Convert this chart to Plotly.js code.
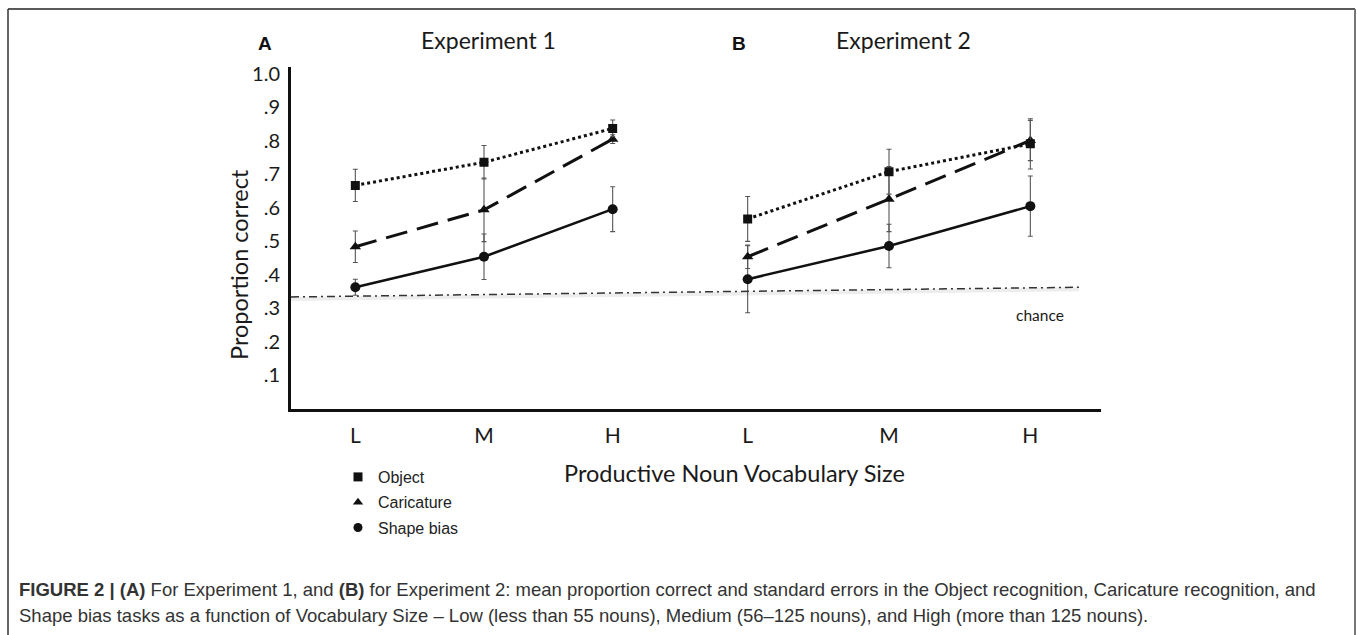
<!DOCTYPE html>
<html>
<head>
<meta charset="utf-8">
<script src="https://cdn.plot.ly/plotly-3.0.1.min.js"></script>
<style>
  html, body { margin: 0; padding: 0; background: #ffffff; }
  #chart { width: 1357px; height: 635px; }
</style>
</head>
<body>
<div id="chart"></div>
<script>
// ---------------- data ----------------
const categories = ['L', 'M', 'H'];
const yTickVals = [0.1, 0.2, 0.3, 0.4, 0.5, 0.6, 0.7, 0.8, 0.9, 1.0];
const yTickText = ['.1', '.2', '.3', '.4', '.5', '.6', '.7', '.8', '.9', '1.0'];

const exp1Object        = [0.666, 0.735, 0.836];
const exp1ObjectErr     = [0.048, 0.050, 0.025];
const exp1Caricature    = [0.483, 0.593, 0.804];
const exp1CaricatureErr = [0.047, 0.095, 0.013];
const exp1Shape         = [0.362, 0.453, 0.595];
const exp1ShapeErr      = [0.024, 0.068, 0.067];

const exp2Object        = [0.566, 0.707, 0.790];
const exp2ObjectErr     = [0.067, 0.067, 0.075];
const exp2Caricature    = [0.453, 0.625, 0.800];
const exp2CaricatureErr = [0.035, 0.097, 0.060];
const exp2Shape         = [0.386, 0.485, 0.604];
const exp2ShapeErr      = [0.100, 0.065, 0.090];

const chanceLine = [0.333, 0.362];   // chance reference line (start, end)
const seriesNames = ['Object', 'Caricature', 'Shape bias'];

// ---------------- layout helpers ----------------
const W = 1357, H = 635;
const px = v => v / W;
const py = v => 1 - v / H;

const lineCol = '#111111';
const errStyle = arr => ({ type: 'data', array: arr, visible: true, color: '#555555', thickness: 1.1, width: 2.5 });

const styles = {
  Object:       { line: { color: lineCol, width: 3, dash: 'dot' }, marker: { symbol: 'square', size: 9, color: lineCol } },
  Caricature:   { line: { color: lineCol, width: 3, dash: '22px,10px' }, marker: { symbol: 'triangle-up', size: 10, color: lineCol } },
  'Shape bias': { line: { color: lineCol, width: 2.5 }, marker: { symbol: 'circle', size: 10, color: lineCol } }
};

function series(name, y, err, xa) {
  return Object.assign({
    type: 'scatter', mode: 'lines+markers', name: name,
    x: categories, y: y, xaxis: xa, yaxis: 'y',
    error_y: errStyle(err), showlegend: false, hoverinfo: 'x+y'
  }, { line: styles[name].line, marker: styles[name].marker });
}

const traces = [
  series('Shape bias', exp1Shape, exp1ShapeErr, 'x'),
  series('Caricature', exp1Caricature, exp1CaricatureErr, 'x'),
  series('Object', exp1Object, exp1ObjectErr, 'x'),
  series('Shape bias', exp2Shape, exp2ShapeErr, 'x2'),
  series('Caricature', exp2Caricature, exp2CaricatureErr, 'x2'),
  series('Object', exp2Object, exp2ObjectErr, 'x2')
];

// legend-only entries (markers only, as in the figure)
seriesNames.forEach((n, i) => {
  traces.push({
    type: 'scatter', mode: 'markers', name: n, x: [null], y: [null],
    xaxis: 'x', yaxis: 'y', showlegend: true, legendgroup: 'g' + i,
    marker: Object.assign({}, styles[n].marker, { size: 9 })
  });
});

const calibri = 'Lato, Carlito, Calibri, sans-serif';
const arial = '"Liberation Sans", Arial, Helvetica, sans-serif';

const xDom1 = [px(291), px(677)];
const xDom2 = [px(677), px(1101)];
const yDom = [py(408.5), py(66.8)];

const xAxisCommon = {
  type: 'category', categoryarray: categories, categoryorder: 'array',
  range: [-0.5, 2.5], showline: true, linewidth: 3, linecolor: '#111',
  showgrid: false, zeroline: false, ticks: '', anchor: 'y',
  tickfont: { family: calibri, size: 21, color: '#1a1a1a' },
  ticklabelstandoff: 6, fixedrange: true
};

function note(text, x, y, font, extra) {
  return Object.assign({ text: text, xref: 'paper', yref: 'paper', x: px(x), y: py(y),
    xanchor: 'center', yanchor: 'middle', showarrow: false, font: font }, extra || {});
}

const layout = {
  width: W, height: H,
  margin: { l: 0, r: 0, t: 0, b: 0, pad: 0 },
  paper_bgcolor: '#ffffff', plot_bgcolor: 'rgba(0,0,0,0)',
  showlegend: true,
  legend: {
    x: px(338), y: py(460), xanchor: 'left', yanchor: 'top',
    font: { family: arial, size: 16, color: '#222' },
    bgcolor: 'rgba(0,0,0,0)', borderwidth: 0,
    traceorder: 'grouped', tracegroupgap: 1.5
  },
  xaxis: Object.assign({}, xAxisCommon, { domain: xDom1 }),
  xaxis2: Object.assign({}, xAxisCommon, { domain: xDom2 }),
  yaxis: {
    domain: yDom, range: [0, 1.02], anchor: 'x',
    showline: true, linewidth: 3, linecolor: '#111',
    showgrid: false, zeroline: false, ticks: '',
    tickvals: yTickVals, ticktext: yTickText,
    tickfont: { family: calibri, size: 20, color: '#1a1a1a' },
    ticklabelstandoff: 4, fixedrange: true
  },
  shapes: [
    // figure frame (top, left, right)
    { type: 'line', xref: 'paper', yref: 'paper', x0: px(8), x1: px(1355), y0: py(9), y1: py(9), line: { color: '#222', width: 1.5 } },
    { type: 'line', xref: 'paper', yref: 'paper', x0: px(8), x1: px(8), y0: py(9), y1: -0.1, line: { color: '#333', width: 1.5 } },
    { type: 'line', xref: 'paper', yref: 'paper', x0: px(1355), x1: px(1355), y0: py(9), y1: -0.1, line: { color: '#777', width: 2 } },
    // chance line shadow + line
    { type: 'line', xref: 'paper', yref: 'y', x0: px(291), x1: px(1079), y0: chanceLine[0] - 0.006, y1: chanceLine[1] - 0.006, line: { color: 'rgba(0,0,0,0.07)', width: 4 } },
    { type: 'line', xref: 'paper', yref: 'y', x0: px(291), x1: px(1079), y0: chanceLine[0], y1: chanceLine[1], line: { color: '#333', width: 1.5, dash: '8px,4px,2px,4px' } }
  ],
  annotations: [
    note('<b>A</b>', 265, 43, { family: arial, size: 19, color: '#111' }),
    note('Experiment 1', 488, 40, { family: calibri, size: 23, color: '#1a1a1a' }),
    note('<b>B</b>', 739, 43, { family: arial, size: 19, color: '#111' }),
    note('Experiment 2', 903, 40, { family: calibri, size: 23, color: '#1a1a1a' }),
    note('Proportion correct', 239, 265, { family: calibri, size: 23.5, color: '#1a1a1a' }, { textangle: -90 }),
    note('Productive Noun Vocabulary Size', 734, 473, { family: calibri, size: 23.5, color: '#1a1a1a' }),
    note('chance', 1040, 315, { family: calibri, size: 15.5, color: '#1a1a1a' }),
    note('<b>FIGURE 2 | (A)</b> For Experiment 1, and <b>(B)</b> for Experiment 2: mean proportion correct and standard errors in the Object recognition, Caricature recognition, and',
      17, 589, { family: arial, size: 18.5, color: '#333' }, { xanchor: 'left' }),
    note('Shape bias tasks as a function of Vocabulary Size \u2013 Low (less than 55 nouns), Medium (56\u2013125 nouns), and High (more than 125 nouns).',
      17, 615, { family: arial, size: 18.5, color: '#333' }, { xanchor: 'left' })
  ]
};

Plotly.newPlot('chart', traces, layout, { staticPlot: true, displayModeBar: false });
</script>
</body>
</html>
